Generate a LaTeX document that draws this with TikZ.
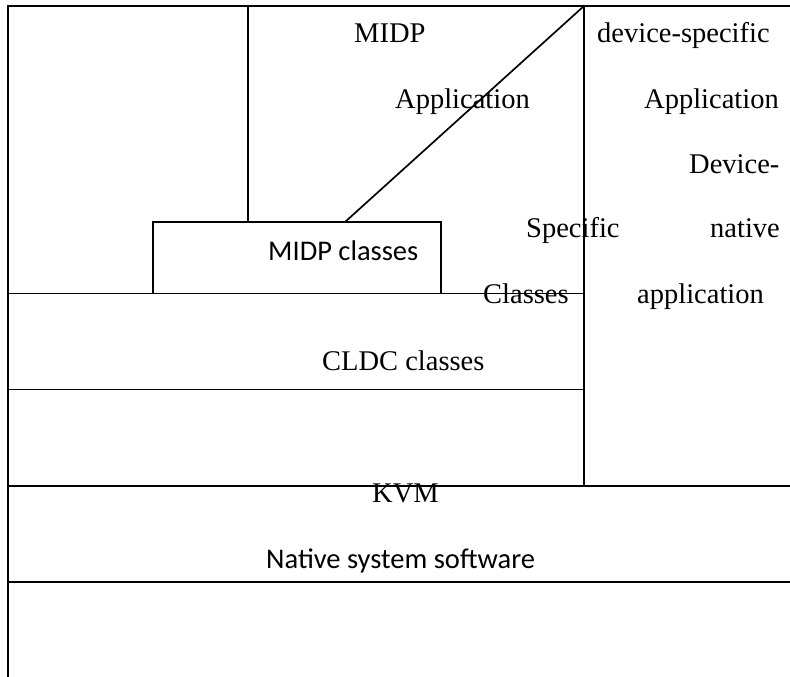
\documentclass[tikz,border=0pt]{standalone}
\usepackage{fontspec}
\setmainfont{Liberation Serif}
\newfontfamily\calibrifont{Carlito}
\begin{document}
\begin{tikzpicture}[x=1pt,y=-1pt,
  rule/.style={line width=1.7pt},
  frame/.style={line width=2.2pt},
  serif/.style={font=\fontsize{28.5}{30}\selectfont, inner sep=0pt, anchor=base west},
  sans/.style={font=\calibrifont\fontsize{28.5}{30}\selectfont, inner sep=0pt, anchor=base west}]
\useasboundingbox (0,0) rectangle (790,677);

% frame corners and layer boundaries
\coordinate (tl) at (8,6);
\coordinate (tr) at (790,6);
\coordinate (bl) at (8,677);
\coordinate (sep) at (584,6);
\coordinate (sepb) at (584,486);
\coordinate (midv) at (248,6);
\coordinate (midvb) at (248,222);
\coordinate (diagb) at (345,222);
\coordinate (l1a) at (8,293.5);   \coordinate (l1b) at (584,293.5);
\coordinate (l2a) at (8,389.5);   \coordinate (l2b) at (584,389.5);
\coordinate (l3a) at (8,486);     \coordinate (l3b) at (790,486);
\coordinate (l4a) at (8,582);     \coordinate (l4b) at (790,582);
\coordinate (boxa) at (152.7,222);
\coordinate (boxb) at (440.7,293.5);

% outer frame
\draw[frame] (bl) -- (tl) -- (tr);

% layer lines
\draw[rule] (l1a) -- (l1b);
\draw[rule] (l2a) -- (l2b);
\draw[rule] (l3a) -- (l3b);
\draw[rule] (l4a) -- (l4b);
\draw[rule] (sep) -- (sepb);
\draw[rule] (midv) -- (midvb);
\draw[rule] (sep) -- (diagb);
\draw[rule] (boxa) rectangle (boxb);

% labels
\node[serif] (midp) at (354,43) {MIDP};
\node[serif] (midpapp) at (395,108) {Application};
\node[serif] (devspec) at (597,43) {device-specific};
\node[serif] (devapp) at (644,108) {Application};
\node[serif] (device) at (689,173) {Device-};
\node[serif] (specific) at (526,237) {Specific};
\node[serif] (native) at (710,237) {native};
\node[serif] (classes) at (483,303) {Classes};
\node[serif] (application) at (637,303) {application};
\node[sans] (midpcls) at (268,260) {MIDP classes};
\node[serif] (cldc) at (322,370) {CLDC classes};
\node[serif] (kvm) at (372,502) {KVM};
\node[sans] (nss) at (266,568) {Native system software};
\end{tikzpicture}
\end{document}
